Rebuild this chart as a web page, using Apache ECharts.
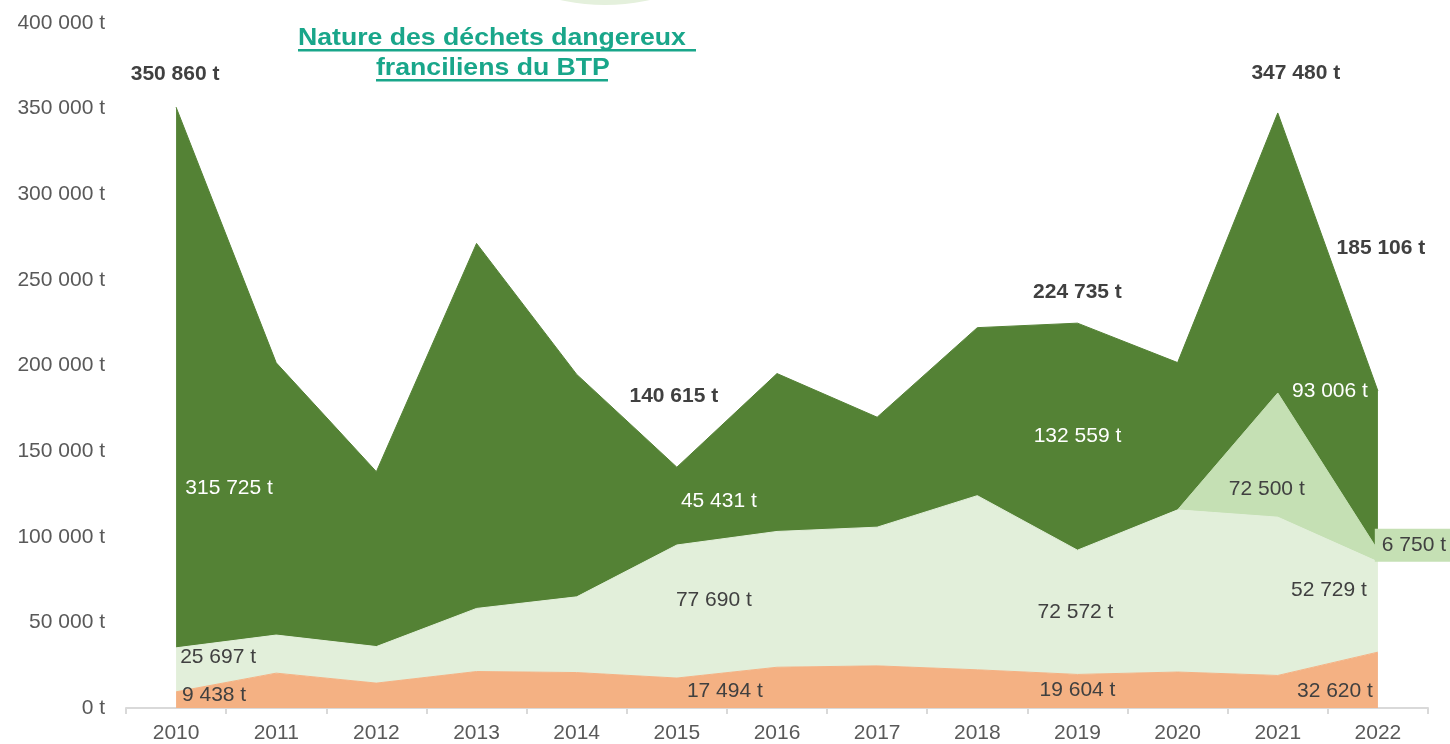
<!DOCTYPE html>
<html>
<head>
<meta charset="utf-8">
<script src="https://cdn.jsdelivr.net/npm/echarts@6.0.0/dist/echarts.min.js"></script>
<style>
  html, body { margin: 0; padding: 0; background: #fff; }
  #chart { width: 1450px; height: 744px; }
</style>
</head>
<body>
<div id="chart"></div>
<script>
  // values (tonnes)
  const years = ['2010', '2011', '2012', '2013', '2014', '2015', '2016', '2017', '2018', '2019', '2020', '2021', '2022']
  const orange = [9438, 20350, 14535, 21300, 20700, 17494, 23800, 24600, 22300, 19604, 21000, 19000, 32620]
  const lightGreen = [25697, 22250, 21335, 36840, 44200, 77690, 79300, 81000, 101700, 72572, 94700, 92450, 52729]
  const midGreen = [null, null, null, null, null, null, null, null, null, null, 0, 72500, 6750]
  const darkGreen = [315725, 158970, 102130, 213160, 129900, 45431, 92200, 64200, 98100, 132559, 86000, 163530, 93006]
  const totals = [350860, null, null, null, null, 140615, null, null, null, 224735, null, 347480, 185106]

  const FONT = "'Liberation Sans', Arial, sans-serif"
  const TITLE_COLOR = '#19a68a'

  const fmt = function (v) {
    return String(v).replace(/\B(?=(\d{3})+(?!\d))/g, ' ') + ' t'
  }

  // label offsets (px from the stacked point), by year index
  const orangeLabels = { 0: [38, 3], 5: [48, 13], 9: [0, 16], 12: [-43, 39] }
  const lightLabels = { 0: [42, 9], 5: [37, 55], 9: [-2, 62], 12: [-49, 28] }
  const midLabels = { 11: [-11, 96], 12: [36, -5] }
  const darkLabels = { 0: [53, 381], 5: [42, 34], 9: [0, 113], 12: [-48, 0] }
  const totalLabels = { 0: [-1, -33], 5: [-3, -71], 9: [0, -31], 11: [18, -40], 12: [3, -143] }

  function withLabels (values, offsets, color, extra, itemExtra) {
    return values.map(function (v, i) {
      if (!offsets[i]) return v
      return {
        value: v,
        label: Object.assign({
          show: true,
          position: 'inside',
          offset: offsets[i],
          color: color,
          fontSize: 21,
          fontFamily: FONT,
          formatter: function (p) { return fmt(p.value) }
        }, extra || {}, (itemExtra && itemExtra[i]) || {})
      }
    })
  }

  function areaSeries (name, values, color, offsets, labelColor, itemExtra) {
    return {
      name: name,
      type: 'line',
      stack: 'total',
      symbol: 'circle',
      symbolSize: 0,
      showSymbol: true,
      clip: false,
      lineStyle: { width: 1, color: color },
      itemStyle: { color: color },
      areaStyle: { color: color, opacity: 1 },
      label: { show: false },
      emphasis: { disabled: true },
      data: withLabels(values, offsets, labelColor, null, itemExtra)
    }
  }

  const chart = echarts.init(document.getElementById('chart'))
  chart.setOption({
    animation: false,
    textStyle: { fontFamily: FONT },
    grid: { left: 126, right: 22, top: 23, bottom: 33 },
    xAxis: {
      type: 'category',
      data: years,
      boundaryGap: true,
      axisLine: { lineStyle: { color: '#d9d9d9', width: 2 } },
      axisTick: { show: true, length: 6, lineStyle: { color: '#d9d9d9', width: 2 } },
      axisLabel: { color: '#595959', fontSize: 21, margin: 15, fontFamily: FONT }
    },
    yAxis: {
      type: 'value',
      min: 0,
      max: 400000,
      interval: 50000,
      axisLine: { show: false },
      axisTick: { show: false },
      splitLine: { show: false },
      axisLabel: {
        color: '#595959',
        fontSize: 21,
        margin: 21,
        fontFamily: FONT,
        formatter: fmt
      }
    },
    graphic: [
      { type: 'circle', shape: { cx: 605, cy: -200, r: 205 }, style: { fill: '#e4f0dc' }, z: -1 },
      {
        type: 'text', x: 298, y: 38, scaleX: 1.11,
        style: { text: 'Nature des déchets dangereux', fill: TITLE_COLOR, font: 'bold 24px ' + FONT, verticalAlign: 'middle' }
      },
      { type: 'rect', shape: { x: 298, y: 49, width: 398, height: 2.5 }, style: { fill: TITLE_COLOR } },
      {
        type: 'text', x: 376, y: 68, scaleX: 1.11,
        style: { text: 'franciliens du BTP', fill: TITLE_COLOR, font: 'bold 24px ' + FONT, verticalAlign: 'middle' }
      },
      { type: 'rect', shape: { x: 376, y: 79, width: 232, height: 2.5 }, style: { fill: TITLE_COLOR } }
    ],
    series: [
      areaSeries('Série 1', orange, '#f4b183', orangeLabels, '#404040'),
      areaSeries('Série 2', lightGreen, '#e2efda', lightLabels, '#404040'),
      areaSeries('Série 3', midGreen, '#c5e0b4', midLabels, '#404040', {
        12: { backgroundColor: '#c5e0b4', padding: [6, 7] }
      }),
      areaSeries('Série 4', darkGreen, '#548235', darkLabels, '#ffffff'),
      {
        name: 'Total',
        type: 'line',
        symbol: 'circle',
        symbolSize: 0,
        showSymbol: true,
        clip: false,
        lineStyle: { width: 0, opacity: 0 },
        emphasis: { disabled: true },
        z: 5,
        data: withLabels(totals, totalLabels, '#404040', { fontWeight: 'bold', fontSize: 21 })
      }
    ]
  })
</script>
</body>
</html>
